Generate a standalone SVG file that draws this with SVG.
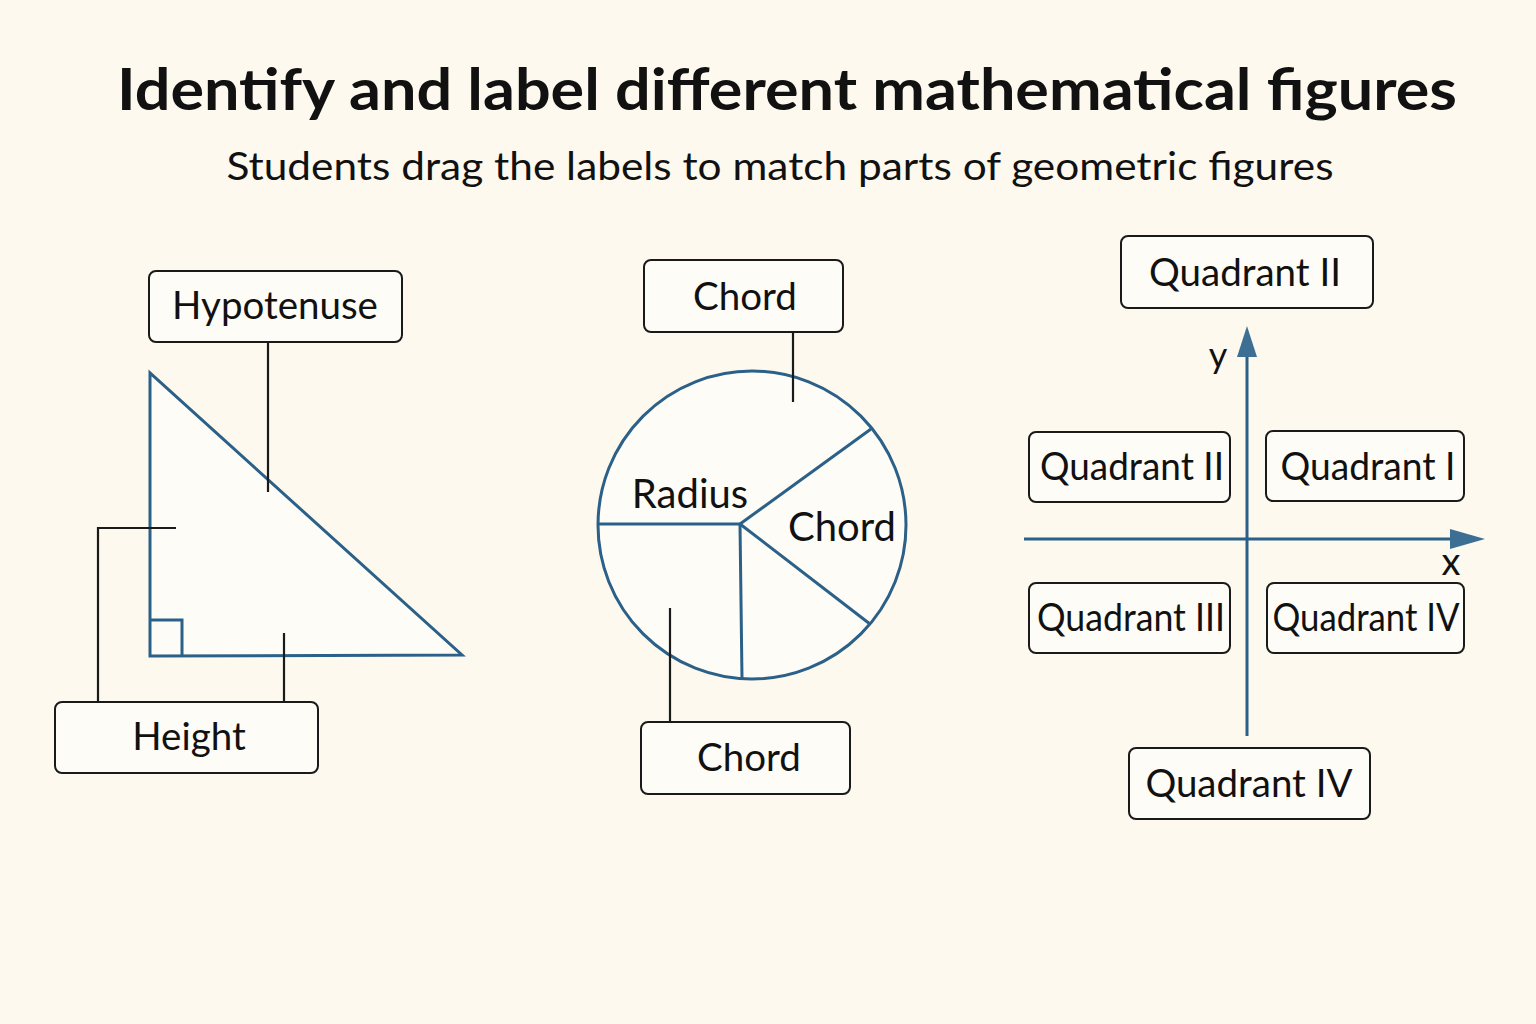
<svg xmlns="http://www.w3.org/2000/svg" width="1536" height="1024" viewBox="0 0 1536 1024">
<style>
text{font-family:Lato,"Noto Sans","Liberation Sans",sans-serif;fill:#111;}
.title{font-size:58px;font-weight:700;text-anchor:middle;}
.sub{font-size:38px;text-anchor:middle;}
.lbl{font-size:38.5px;text-anchor:middle;}
.box{fill:#fefcf6;stroke:#1a1a1a;stroke-width:2;}
.fig{fill:none;stroke:#2b6088;stroke-width:3;}
.lead{stroke:#1a1a1a;stroke-width:2.2;fill:none;}
</style>
<rect width="1536" height="1024" fill="#fdf9ee"/>
<g id="header">
<text class="title" x="787" y="110" textLength="1340" lengthAdjust="spacingAndGlyphs">Identify and label different mathematical figures</text>
<text class="sub" x="780" y="180" textLength="1107" lengthAdjust="spacingAndGlyphs">Students drag the labels to match parts of geometric figures</text>
</g>
<g id="triangle">
<polygon class="fig" points="150,373 150,656 462,655" style="fill:#fefcf6"/>
<polyline class="fig" points="150,620 182,620 182,656"/>
</g>
<g id="circle">
<circle class="fig" cx="752" cy="525" r="154" style="fill:#fefcf6"/>
<line class="fig" x1="598" y1="524" x2="740" y2="524"/>
<line class="fig" x1="740" y1="524" x2="871" y2="429"/>
<line class="fig" x1="740" y1="524" x2="870" y2="624"/>
<line class="fig" x1="740" y1="524" x2="742" y2="679"/>
<text class="lbl" x="690" y="508" style="font-size:40px">Radius</text>
<text class="lbl" x="842" y="541" style="font-size:40px">Chord</text>
</g>
<g id="axes">
<line class="fig" x1="1247" y1="736" x2="1247" y2="352"/>
<polygon points="1247,326 1237,357 1257,357" fill="#3d6f95"/>
<line class="fig" x1="1024" y1="539" x2="1455" y2="539"/>
<polygon points="1485,539 1450,529 1450,549" fill="#3d6f95"/>
<text x="1218" y="368" font-size="36" text-anchor="middle">y</text>
<text x="1451" y="575" font-size="38" text-anchor="middle">x</text>
</g>
<g id="connectors">
<line class="lead" x1="268" y1="342" x2="268" y2="492"/>
<polyline class="lead" points="98,702 98,528 176,528"/>
<line class="lead" x1="284" y1="702" x2="284" y2="633"/>
<line class="lead" x1="793" y1="332" x2="793" y2="402"/>
<line class="lead" x1="670" y1="722" x2="670" y2="608"/>
</g>
<g id="node-hypotenuse">
<rect class="box" x="149" y="271" width="253" height="71" rx="7"/>
<text class="lbl" x="275" y="319">Hypotenuse</text>
</g>
<g id="node-height">
<rect class="box" x="55" y="702" width="263" height="71" rx="7"/>
<text class="lbl" x="189" y="750">Height</text>
</g>
<g id="node-chord-top">
<rect class="box" x="644" y="260" width="199" height="72" rx="7"/>
<text class="lbl" x="745" y="310">Chord</text>
</g>
<g id="node-chord-bottom">
<rect class="box" x="641" y="722" width="209" height="72" rx="7"/>
<text class="lbl" x="749" y="771">Chord</text>
</g>
<g id="node-q2-top">
<rect class="box" x="1121" y="236" width="252" height="72" rx="7"/>
<text class="lbl" x="1245" y="286">Quadrant II</text>
</g>
<g id="node-q2">
<rect class="box" x="1029" y="432" width="201" height="70" rx="7"/>
<text class="lbl" x="1132" y="480" textLength="184" lengthAdjust="spacingAndGlyphs">Quadrant II</text>
</g>
<g id="node-q1">
<rect class="box" x="1266" y="431" width="198" height="70" rx="7"/>
<text class="lbl" x="1368" y="480" textLength="175" lengthAdjust="spacingAndGlyphs">Quadrant I</text>
</g>
<g id="node-q3">
<rect class="box" x="1029" y="583" width="201" height="70" rx="7"/>
<text class="lbl" x="1131" y="631" textLength="188" lengthAdjust="spacingAndGlyphs">Quadrant III</text>
</g>
<g id="node-q4">
<rect class="box" x="1267" y="583" width="197" height="70" rx="7"/>
<text class="lbl" x="1366" y="631" textLength="187" lengthAdjust="spacingAndGlyphs">Quadrant IV</text>
</g>
<g id="node-q4-bottom">
<rect class="box" x="1129" y="748" width="241" height="71" rx="7"/>
<text class="lbl" x="1249" y="797">Quadrant IV</text>
</g>
</svg>
